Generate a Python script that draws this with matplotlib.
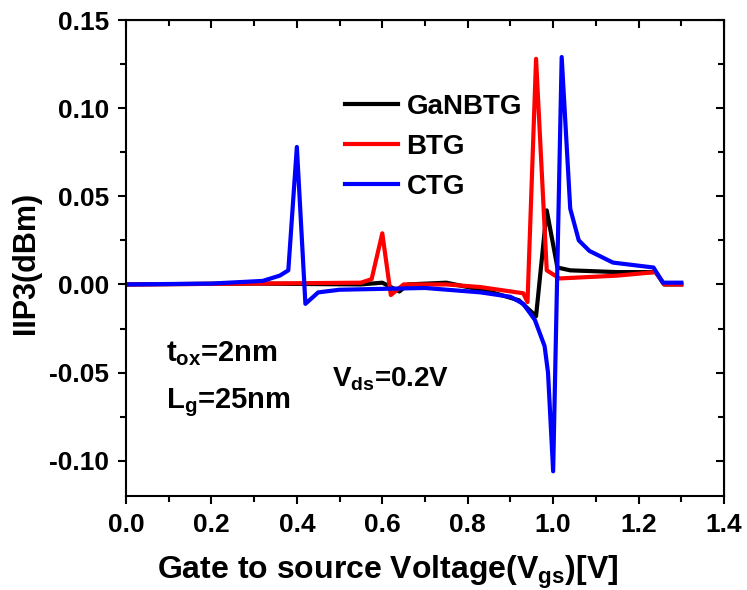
import matplotlib
matplotlib.use('Agg')
import matplotlib.pyplot as plt
from matplotlib.ticker import MultipleLocator

plt.rcParams['font.family'] = ['Liberation Sans', 'DejaVu Sans']
plt.rcParams['font.weight'] = 'bold'
plt.rcParams['mathtext.default'] = 'regular'

# GaNBTG
vgs_ganbtg = [0.0, 0.3, 0.55, 0.60, 0.64, 0.66, 0.75, 0.85, 0.92, 0.96, 0.985, 1.01, 1.04, 1.15, 1.24, 1.26, 1.30]
iip3_ganbtg = [0.0, 0.0005, 0.0, 0.001, -0.004, 0.0, 0.001, -0.004, -0.009, -0.018, 0.042, 0.0096, 0.008, 0.007, 0.007, 0.0, 0.0]

# BTG
vgs_btg = [0.0, 0.3, 0.55, 0.575, 0.60, 0.62, 0.65, 0.75, 0.83, 0.93, 0.94, 0.96, 0.985, 1.015, 1.15, 1.24, 1.26, 1.30]
iip3_btg = [0.0, 0.0005, 0.001, 0.003, 0.029, -0.006, 0.0, 0.0, -0.0015, -0.005, -0.01, 0.128, 0.008, 0.0034, 0.005, 0.007, 0.0, 0.0]

# CTG
vgs_ctg = [0.0, 0.2, 0.32, 0.36, 0.38, 0.40, 0.42, 0.45, 0.5, 0.7, 0.83, 0.9, 0.93, 0.957, 0.98, 0.988, 1.0, 1.02, 1.04, 1.06, 1.085, 1.14, 1.235, 1.257, 1.30]
iip3_ctg = [0.0, 0.0005, 0.002, 0.005, 0.008, 0.078, -0.011, -0.0045, -0.003, -0.002, -0.0045, -0.007, -0.011, -0.02, -0.035, -0.05, -0.106, 0.129, 0.043, 0.025, 0.019, 0.0124, 0.0096, 0.001, 0.001]

xticks = [0.0, 0.2, 0.4, 0.6, 0.8, 1.0, 1.2, 1.4]
xtick_labels = ['0.0', '0.2', '0.4', '0.6', '0.8', '1.0', '1.2', '1.4']
yticks = [-0.10, -0.05, 0.0, 0.05, 0.10, 0.15]
ytick_labels = ['-0.10', '-0.05', '0.00', '0.05', '0.10', '0.15']

fig = plt.figure(figsize=(7.47, 5.90), dpi=100)
ax = fig.add_axes([126 / 747, 1 - 496 / 590, (724 - 126) / 747, (496 - 20) / 590])

ax.plot(vgs_ganbtg, iip3_ganbtg, color='black', linewidth=3, label='GaNBTG')
ax.plot(vgs_btg, iip3_btg, color='#ff0000', linewidth=3, label='BTG')
ax.plot(vgs_ctg, iip3_ctg, color='#0000ff', linewidth=3, label='CTG')

ax.set_xlim(0.0, 1.4)
ax.set_ylim(-0.12, 0.15)
ax.xaxis.set_minor_locator(MultipleLocator(0.1))
ax.yaxis.set_minor_locator(MultipleLocator(0.025))
ax.set_xticks(xticks)
ax.set_xticklabels(xtick_labels)
ax.set_yticks(yticks)
ax.set_yticklabels(ytick_labels)

# outward ticks on left/bottom, inward on top/right
ax.tick_params(which='major', direction='out', length=6, width=1.5, labelsize=19, pad=6)
ax.tick_params(which='minor', direction='out', length=4, width=1.5)
sec_x = ax.secondary_xaxis('top')
sec_x.set_xticks(xticks)
sec_x.xaxis.set_minor_locator(MultipleLocator(0.1))
sec_x.tick_params(which='both', direction='in', labeltop=False, width=1.5)
sec_x.tick_params(which='major', length=6)
sec_x.tick_params(which='minor', length=4)
sec_y = ax.secondary_yaxis('right')
sec_y.set_yticks(yticks)
sec_y.yaxis.set_minor_locator(MultipleLocator(0.025))
sec_y.tick_params(which='both', direction='in', labelright=False, width=1.5)
sec_y.tick_params(which='major', length=6)
sec_y.tick_params(which='minor', length=4)
for s in ax.spines.values():
    s.set_linewidth(1.5)

ax.set_xlabel('Gate to source Voltage(V$_{gs}$)[V]', fontsize=23, fontweight='bold')
ax.xaxis.set_label_coords((388 - 126) / 598, -0.122)
ax.set_ylabel('IIP3(dBm)', fontsize=22, fontweight='bold')
ax.yaxis.set_label_coords(-0.142, 0.49)

ax.legend(loc='upper left', bbox_to_anchor=(0.325, 0.897), frameon=False,
          fontsize=20, handlelength=1.9, handletextpad=0.3, labelspacing=0.5)

ax.text(0.094, -0.039, 't$_{ox}$=2nm', fontsize=21, fontweight='bold', va='center')
ax.text(0.094, -0.067, 'L$_{g}$=25nm', fontsize=21, fontweight='bold', va='center')
ax.text(0.483, -0.054, 'V$_{ds}$=0.2V', fontsize=20, fontweight='bold', va='center')

fig.savefig('out.png', dpi=100)
